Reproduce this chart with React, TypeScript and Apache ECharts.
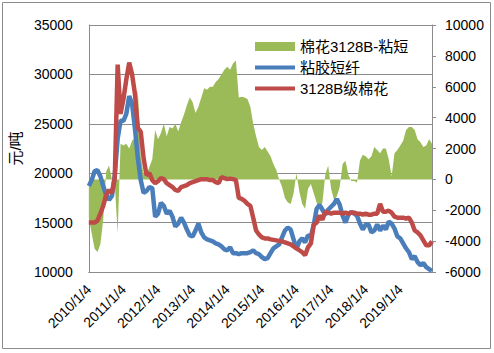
import React, { useEffect, useRef } from "react";
import * as echarts from "echarts";

// Monthly categories, 2010/1 .. 2019/12 (labels shown only for January)
const years = [2010, 2011, 2012, 2013, 2014, 2015, 2016, 2017, 2018, 2019];
const categories: string[] = [];
years.forEach((y) => {
  for (let m = 1; m <= 12; m++) categories.push(`${y}/${m}/4`);
});

// 粘胶短纤 (元/吨, left axis)
const viscose = [
  18700, 19300, 20200, 20300, 19700, 18700, 17800, 17300, 17700, 19800, 23500, 25300,
  25300, 26000, 27800, 27000, 24500, 21500, 19300, 18000, 18200, 18600, 18500, 15600,
  15900, 17000, 16700, 15900, 16200, 15600, 14600, 14900, 15500, 15000, 14300, 13700,
  13600, 14200, 14900, 14000, 13500, 13300, 13200, 13100, 12900, 12800, 12600, 12300,
  12200, 12500, 11900, 11900, 11800, 11900, 11900, 11900, 12000, 12200, 11900, 11800,
  11500, 11300, 11400, 11900, 12400, 12600, 12800, 13500, 14200, 14500, 14300, 13300,
  12300, 13100, 13400, 13000, 13700, 13600, 14800, 16400, 16800, 16300, 15800, 16300,
  16600, 16900, 17400, 16800, 15700, 15000, 15800, 16100, 15900, 15700, 14900, 14300,
  14800, 14800, 14000, 14200, 14800, 14200, 14700, 14300, 15100, 14900, 14400, 13600,
  13400, 12900, 12400, 12000, 11300, 11600, 11000, 10700, 10900, 10500, 10300, 10100,
];

// 3128B级棉花 (元/吨, left axis)
const cotton = [
  15000, 15000, 15000, 15200, 15900, 16700, 17800, 18300, 18000, 19500, 31000, 26000,
  27500, 29500, 31200, 30000, 28000, 24600, 24200, 21500, 19800, 20000, 19300, 19000,
  19200, 19500, 19400, 19000, 18800, 18600, 18300, 18200, 18600, 18700, 18800, 19000,
  19100, 19200, 19300, 19400, 19400, 19400, 19300, 19300, 19100, 19000, 19600, 19500,
  19400, 19450, 19400, 19300, 17500, 17400, 17200, 16900, 16700, 15500, 14200, 13800,
  13500, 13400, 13400, 13300, 13250, 13200, 13150, 13100, 13000, 12900, 12800, 12600,
  12400, 12200, 12000, 11700, 12500, 12900, 14800, 15000, 15700, 15300, 16100, 16000,
  15900, 16000, 16000, 16000, 15900, 16000, 15900, 16000, 16000, 15900, 15900, 15800,
  15900, 15800, 15800, 15900, 15900, 16900, 16100, 16100, 16200, 16000, 15600, 15500,
  15500, 15500, 15400, 15500, 15000, 14200, 14000, 13700, 13200, 12700, 12700, 13100,
];

// 棉花3128B-粘短 (元/吨, right axis)
const spread = [
  -2500, -3500, -4500, -4700, -4200, -2600, 500, 900, 0, -300, -3500, 2300,
  2200, 2300, 2000, 2500, 2700, 5800, 1500, 300, 300, 800, 1300, 3200,
  2600, 3000, 3600, 2800, 3400, 3300, 3600, 3100, 3700, 4200, 4800, 5300,
  5000, 4300, 4700, 5300, 5900, 5800, 6000, 6000, 6300, 6500, 6800, 7100,
  7300, 7100, 7500, 7700, 5300, 5350, 5300, 5200, 4700, 3600, 2800, 2100,
  1900, 2100, 1800, 1500, 1000, 600, 0, -500, -1200, -1500, -1600, -900,
  400, -800, -1600, -1900, -600, -300, -900, -1500, -1800, -1500, 300, 900,
  -600, -1300, -1100, -500, 1000, 1200, 300, -100, -100, -200, 1200, 1600,
  1500, 1300, 1500, 2100, 1900, 1700, 2000, 2000, 1300, 200, 1700, 1900,
  2200, 2500, 3200, 3400, 3400, 3200, 2600, 2400, 2100, 2200, 2600, 2300,
];

const leftTicks = { min: 10000, max: 35000, interval: 5000 };
const rightTicks = { min: -6000, max: 10000, interval: 2000 };

const FONT = "'Liberation Sans', 'Noto Sans CJK SC', sans-serif";
const GRAY = "#8c8c8c";
const GREEN = "#9BBB59";
const BLUE = "#4A7EBB";
const RED = "#BE4B48";
const LINE_ICON = "path://M0,0 L40,0 L40,4 L0,4 Z";

export default function App() {
  const ref = useRef<HTMLDivElement>(null);
  useEffect(() => {
    if (!ref.current) return;
    const chart = echarts.init(ref.current, undefined, { renderer: "svg" });
    chart.setOption({
      animation: false,
      backgroundColor: "#ffffff",
      textStyle: { fontFamily: FONT },
      graphic: [
        {
          type: "rect",
          silent: true,
          z: -10,
          shape: { x: 2.5, y: 2.5, width: 488, height: 346 },
          style: { fill: "none", stroke: GRAY, lineWidth: 1 },
        },
      ],
      grid: { left: 61, right: 62, top: 25, bottom: 81, containLabel: false },
      legend: {
        orient: "vertical",
        left: 255,
        top: 39,
        padding: 0,
        itemGap: 6,
        itemWidth: 40,
        itemHeight: 9,
        textStyle: { fontSize: 15, color: "#000", fontFamily: FONT },
        data: [
          { name: "棉花3128B-粘短", icon: "rect" },
          { name: "粘胶短纤", icon: LINE_ICON },
          { name: "3128B级棉花", icon: LINE_ICON },
        ],
      },
      xAxis: {
        type: "category",
        data: categories,
        boundaryGap: false,
        axisLine: { show: true, onZero: false, lineStyle: { color: GRAY } },
        axisTick: { show: false },
        axisLabel: { interval: 11, rotate: 45, fontSize: 14, color: "#000", margin: 15 },
        splitLine: { show: false },
      },
      yAxis: [
        {
          type: "value",
          position: "left",
          min: leftTicks.min,
          max: leftTicks.max,
          interval: leftTicks.interval,
          name: "元/吨",
          nameLocation: "middle",
          nameRotate: 90,
          nameGap: 40,
          nameTextStyle: { fontSize: 15, color: "#000" },
          axisLine: { show: true, lineStyle: { color: GRAY } },
          axisTick: { show: false },
          axisLabel: {
            fontSize: 14,
            color: "#000",
            margin: 16,
            formatter: (v: number) => String(v),
          },
          splitLine: { show: true, lineStyle: { color: GRAY, width: 1 } },
        },
        {
          type: "value",
          position: "right",
          min: rightTicks.min,
          max: rightTicks.max,
          interval: rightTicks.interval,
          axisLine: { show: true, lineStyle: { color: GRAY } },
          axisTick: { show: true, length: 4, inside: false, lineStyle: { color: GRAY } },
          axisLabel: {
            fontSize: 14,
            color: "#000",
            margin: 13,
            formatter: (v: number) => String(v),
          },
          splitLine: { show: false },
        },
      ],
      series: [
        {
          name: "棉花3128B-粘短",
          type: "line",
          yAxisIndex: 1,
          data: spread,
          symbol: "none",
          lineStyle: { width: 0, color: GREEN },
          itemStyle: { color: GREEN },
          areaStyle: { color: GREEN, opacity: 1 },
          z: 1,
        },
        {
          name: "粘胶短纤",
          type: "line",
          yAxisIndex: 0,
          data: viscose,
          symbol: "none",
          lineStyle: { width: 4.5, color: BLUE },
          itemStyle: { color: BLUE },
          z: 2,
        },
        {
          name: "3128B级棉花",
          type: "line",
          yAxisIndex: 0,
          data: cotton,
          symbol: "none",
          lineStyle: { width: 4.5, color: RED },
          itemStyle: { color: RED },
          z: 3,
        },
      ],
    });
    return () => chart.dispose();
  }, []);
  return (
    <div
      ref={ref}
      style={{ position: "fixed", left: 0, top: 0, width: 494, height: 353 }}
    />
  );
}
